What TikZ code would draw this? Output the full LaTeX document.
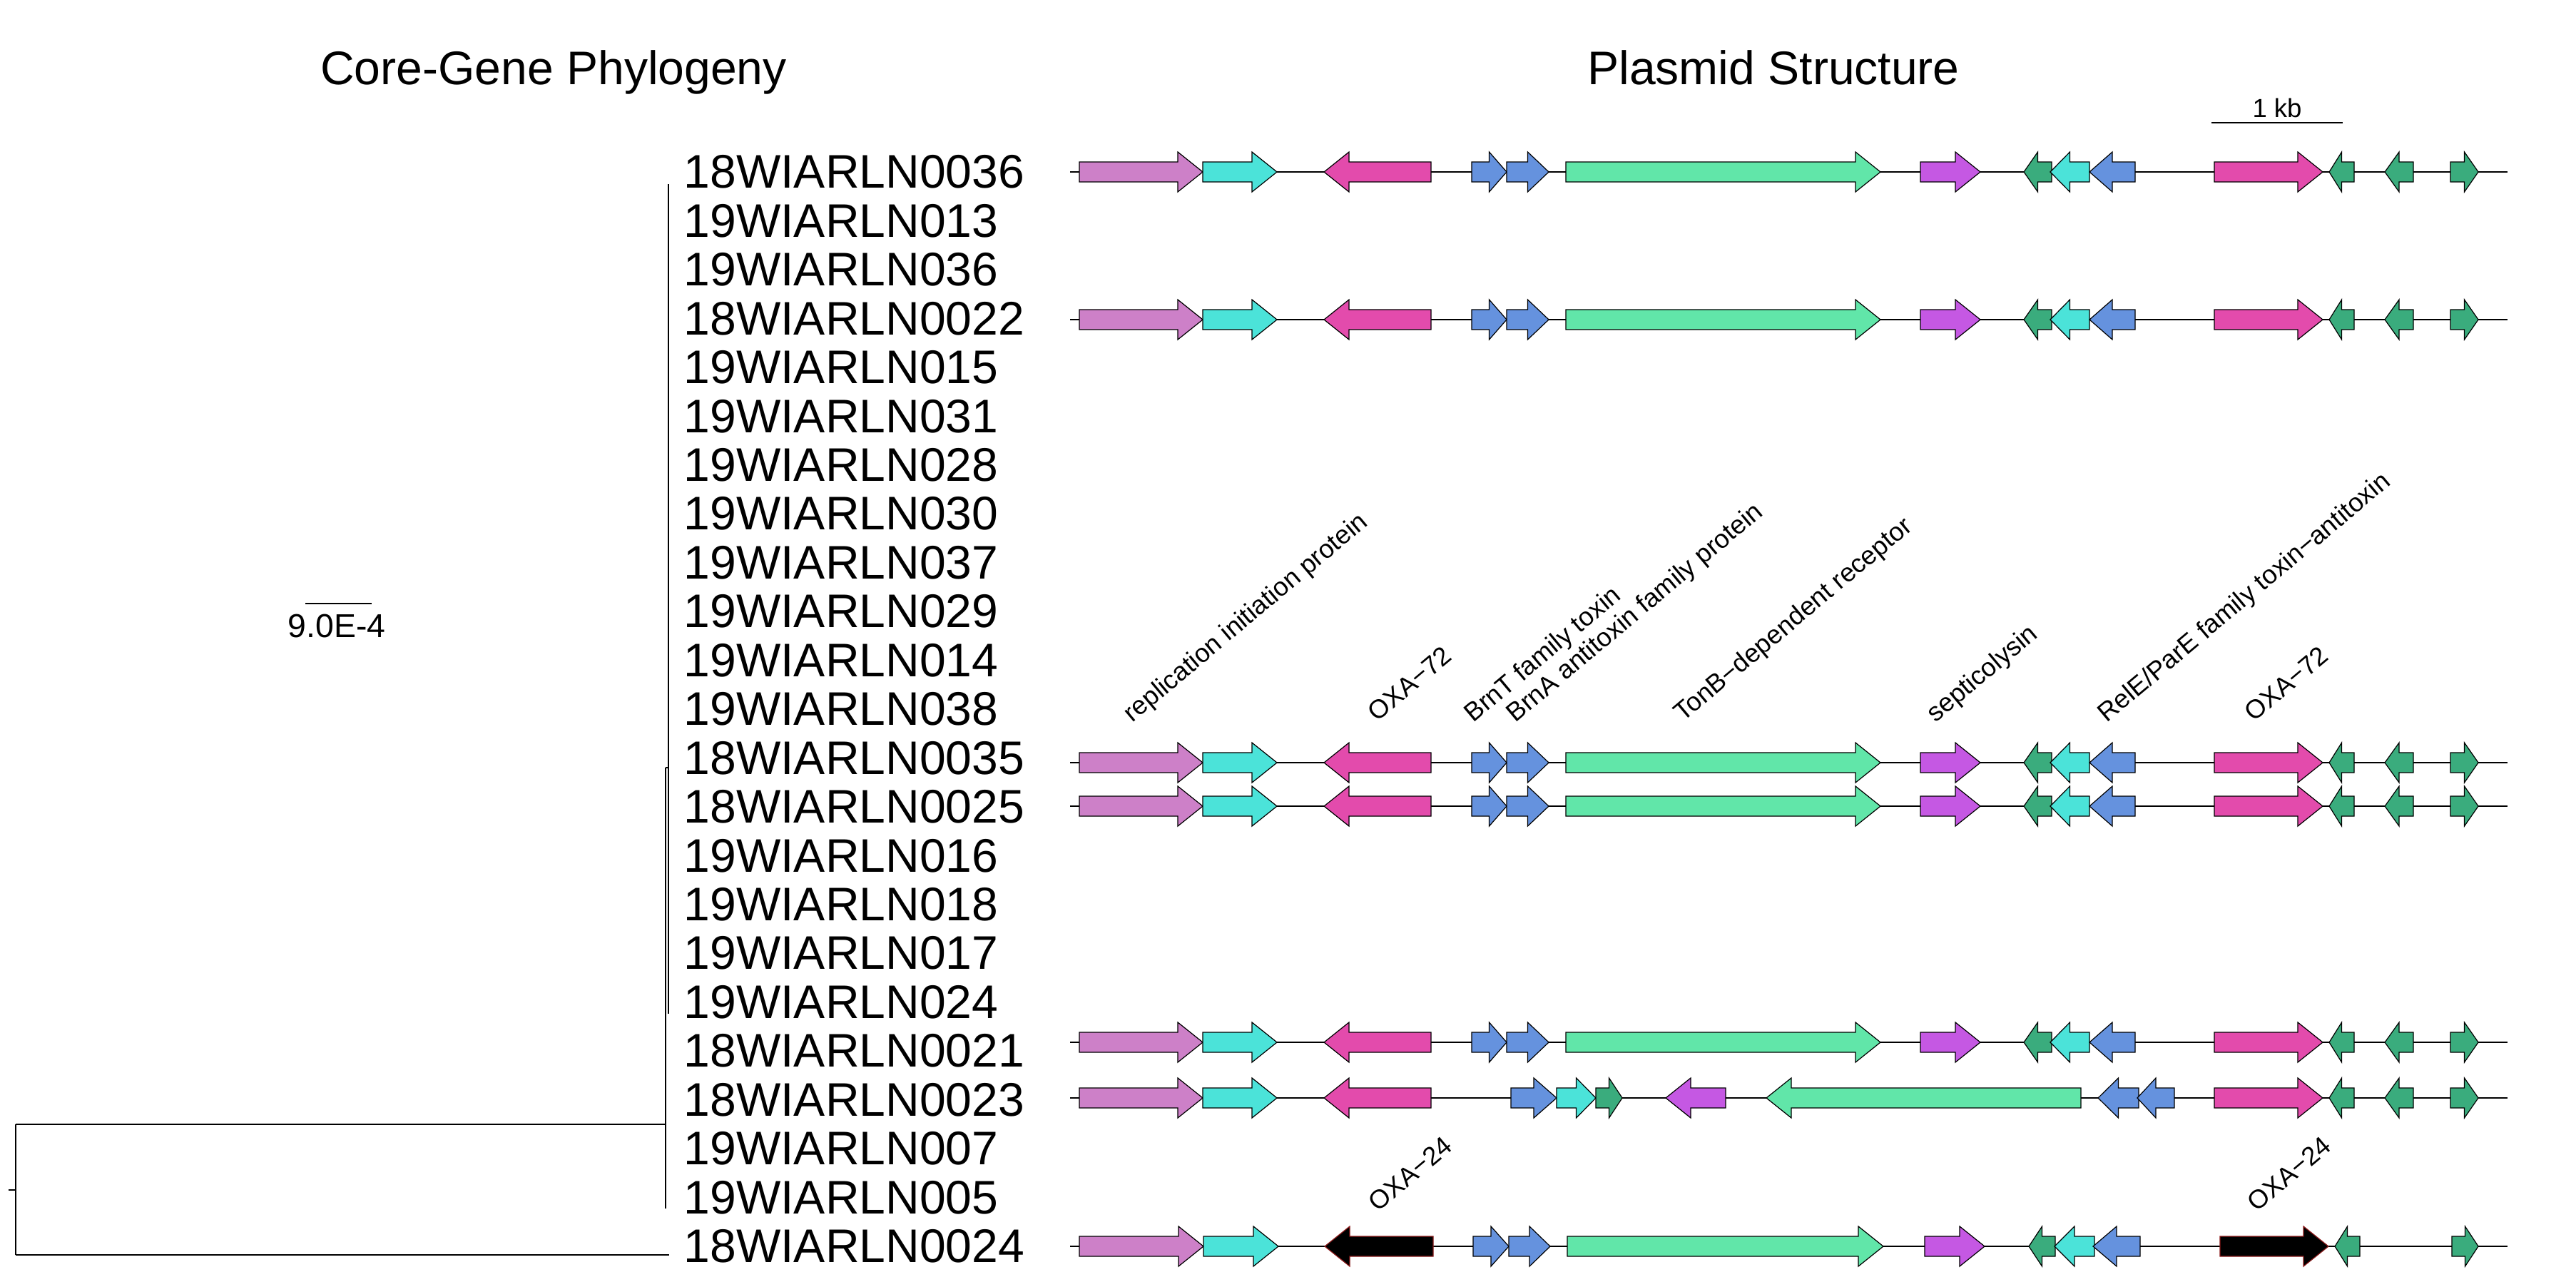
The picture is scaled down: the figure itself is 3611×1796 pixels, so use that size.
\documentclass[tikz,border=0pt]{standalone}
\usepackage{fontspec}
\setmainfont{Liberation Sans}
\usepackage{xcolor}
\usepackage{tikz}
\definecolor{plorchid}{HTML}{CD80C8}
\definecolor{plturq}{HTML}{4BE3D9}
\definecolor{plmagenta}{HTML}{E34BAC}
\definecolor{plblue}{HTML}{6592DE}
\definecolor{plgreen}{HTML}{61E6A9}
\definecolor{plviolet}{HTML}{C558E3}
\definecolor{pldkgreen}{HTML}{3AAC7D}
\definecolor{pledge}{HTML}{8B1A1A}

% gene arrow: [edge] tail x, tip x, row y, fill
\newcommand{\plgene}[5][black]{%
  \pgfmathsetmacro\hl{min(35,abs(#3-#2)/2)*sign(#3-#2)}%
  \pgfmathsetmacro\hx{#3-\hl}%
  \filldraw[genebox,draw=#1,fill=#5] (#2,#4-14) -- (\hx,#4-14) -- (\hx,#4-28) -- (#3,#4)
    -- (\hx,#4+28) -- (\hx,#4+14) -- (#2,#4+14) -- cycle;}

\begin{document}
\begin{tikzpicture}[x=0.1mm,y=-0.1mm,
  track/.style={line width=0.2mm},
  genebox/.style={line width=0.12mm,line join=miter},
  branch/.style={line width=0.18mm},
  tiplab/.style={anchor=west,inner sep=0pt,font=\fontsize{18.8}{20}\selectfont},
  titlelab/.style={anchor=base,inner sep=0pt,font=\fontsize{18.8}{20}\selectfont},
  genelab/.style={anchor=base west,inner sep=0pt,rotate=40,font=\fontsize{10.4}{12}\selectfont},
  smalllab/.style={anchor=base,inner sep=0pt,font=\fontsize{10.4}{12}\selectfont}]
  \useasboundingbox[fill=white] (0,0) rectangle (3611,1796);

  % titles
  \node[titlelab] (phylotitle) at (776,118) {Core-Gene Phylogeny};
  \node[titlelab] (plasmidtitle) at (2486,118) {Plasmid Structure};

  % tree
  \coordinate (root) at (21.7,1668);
  \draw[branch] (11.7,1668) -- (root);
  \draw[branch] (21.7,1576) -- (21.7,1759);
  \draw[branch] (21.7,1576) -- (933,1576);
  \draw[branch] (21.7,1759) -- (938,1759);
  \draw[branch] (933,1076) -- (933,1694);
  \draw[branch] (933,1076) -- (937,1076);
  \draw[branch] (937,258) -- (937,1421);
  \draw[branch] (428,846) -- (521,846);
  \node[anchor=center,inner sep=0pt,font=\fontsize{13.2}{15}\selectfont] (treescale) at (472,878) {9.0E-4};

  % tip labels
  \foreach \nm [count=\k from 0] in {18WIARLN0036,19WIARLN013,19WIARLN036,18WIARLN0022,
      19WIARLN015,19WIARLN031,19WIARLN028,19WIARLN030,19WIARLN037,19WIARLN029,
      19WIARLN014,19WIARLN038,18WIARLN0035,18WIARLN0025,19WIARLN016,19WIARLN018,
      19WIARLN017,19WIARLN024,18WIARLN0021,18WIARLN0023,19WIARLN007,19WIARLN005,
      18WIARLN0024}
    \node[tiplab] (tip\k) at (958,241+68.45*\k) {\nm};

  % scale bar
  \draw[track] (3100,172) -- (3284,172);
  \node[smalllab] (kb) at (3192,164) {1 kb};

  % plasmids, common layout
  \foreach \ry in {241,448,1069,1130,1461} {
    \draw[track] (1500,\ry) -- (3515,\ry);
    \plgene{1513}{1686}{\ry}{plorchid}
    \plgene{1686}{1790}{\ry}{plturq}
    \plgene{2006}{1856}{\ry}{plmagenta}
    \plgene{2063}{2112}{\ry}{plblue}
    \plgene{2112}{2171}{\ry}{plblue}
    \plgene{2195}{2636}{\ry}{plgreen}
    \plgene{2692}{2776}{\ry}{plviolet}
    \plgene{2876}{2837}{\ry}{pldkgreen}
    \plgene{2929}{2874}{\ry}{plturq}
    \plgene{2993}{2929}{\ry}{plblue}
    \plgene{3104}{3256}{\ry}{plmagenta}
    \plgene{3300}{3265}{\ry}{pldkgreen}
    \plgene{3383}{3343}{\ry}{pldkgreen}
    \plgene{3435}{3474}{\ry}{pldkgreen}
  }

  % 18WIARLN0023
  \draw[track] (1500,1539) -- (3515,1539);
  \plgene{1513}{1686}{1539}{plorchid}
  \plgene{1686}{1790}{1539}{plturq}
  \plgene{2006}{1856}{1539}{plmagenta}
  \plgene{2118}{2182}{1539}{plblue}
  \plgene{2182}{2237}{1539}{plturq}
  \plgene{2237}{2274}{1539}{pldkgreen}
  \plgene{2419}{2335}{1539}{plviolet}
  \plgene{2917}{2476}{1539}{plgreen}
  \plgene{2998}{2941}{1539}{plblue}
  \plgene{3048}{2996}{1539}{plblue}
  \plgene{3104}{3256}{1539}{plmagenta}
  \plgene{3300}{3265}{1539}{pldkgreen}
  \plgene{3383}{3343}{1539}{pldkgreen}
  \plgene{3435}{3474}{1539}{pldkgreen}

  % 18WIARLN0024
  \draw[track] (1500,1747) -- (3515,1747);
  \plgene{1513}{1687}{1747}{plorchid}
  \plgene{1687}{1792}{1747}{plturq}
  \plgene[pledge]{2009}{1857}{1747}{black}
  \plgene{2065}{2115}{1747}{plblue}
  \plgene{2115}{2173}{1747}{plblue}
  \plgene{2197}{2640}{1747}{plgreen}
  \plgene{2698}{2782}{1747}{plviolet}
  \plgene{2881}{2844}{1747}{pldkgreen}
  \plgene{2936}{2880}{1747}{plturq}
  \plgene{3000}{2934}{1747}{plblue}
  \plgene[pledge]{3112}{3264}{1747}{black}
  \plgene{3308}{3273}{1747}{pldkgreen}
  \plgene{3437}{3474}{1747}{pldkgreen}

  % gene labels
  \node[genelab] (lrep) at (1587,1014) {replication initiation protein};
  \node[genelab] (loxa1) at (1930,1013) {OXA−72};
  \node[genelab] (lbrnt) at (2065,1014) {BrnT family toxin};
  \node[genelab] (lbrna) at (2124,1014) {BrnA antitoxin family protein};
  \node[genelab] (ltonb) at (2359,1013) {TonB−dependent receptor};
  \node[genelab] (lsept) at (2713,1014) {septicolysin};
  \node[genelab] (lrele) at (2953,1014) {RelE/ParE family toxin−antitoxin};
  \node[genelab] (loxa2) at (3159,1013) {OXA−72};
  \node[genelab] (loxb1) at (1931,1700) {OXA−24};
  \node[genelab] (loxb2) at (3163,1700) {OXA−24};
\end{tikzpicture}
\end{document}
